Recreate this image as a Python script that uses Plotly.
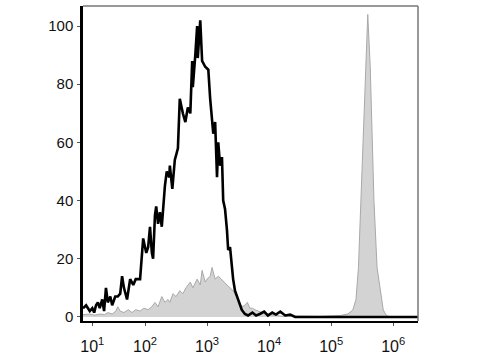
import plotly.graph_objects as go

# Fluorescence intensity in decades (log10, display scale) and % of max
black_x = [1.00, 1.05, 1.08, 1.11, 1.15, 1.18, 1.21, 1.24, 1.27, 1.31, 1.34, 1.37, 1.40, 1.44,
           1.47, 1.52, 1.56, 1.60, 1.63, 1.66, 1.71, 1.76, 1.81, 1.85, 1.92, 1.97, 2.02, 2.05,
           2.08, 2.11, 2.13, 2.16, 2.18, 2.21, 2.24, 2.27, 2.32, 2.35, 2.39, 2.40, 2.44, 2.48,
           2.53, 2.56, 2.61, 2.65, 2.69, 2.73, 2.76, 2.77, 2.81, 2.84, 2.85, 2.89, 2.92, 2.97,
           3.02, 3.05, 3.10, 3.13, 3.16, 3.18, 3.21, 3.24, 3.26, 3.29, 3.32, 3.34, 3.37, 3.40,
           3.42, 3.45, 3.50, 3.53, 3.56, 3.61, 3.66, 3.73, 3.79, 3.85, 3.92, 3.98, 4.05, 4.11,
           4.18, 4.26, 4.34, 4.42, 4.50, 6.40]
black_y = [3, 4, 3, 2, 3, 1.5, 4, 5, 3, 6, 2, 10, 5, 7,
           4, 7, 7, 8, 14, 10, 6, 13, 11, 13, 13, 27, 22, 24,
           31, 22, 20, 35, 38, 32, 36, 31, 45, 50, 48, 52, 44, 54,
           58, 75, 70, 67, 72, 70, 88, 79, 90, 100, 89, 102, 88, 86,
           85, 75, 63, 67, 48, 60, 52, 55, 40, 37, 30, 23, 24, 17,
           13, 9, 6, 4, 2.4, 1, 0.5, 1.5, 0.5, 1, 1.8, 0.5, 1.5, 0.8,
           1.8, 0.5, 0.8, 0, 0, 0]

gray_x = [1.00, 1.11, 1.19, 1.27, 1.35, 1.40, 1.47, 1.53, 1.56, 1.60, 1.66, 1.73, 1.79, 1.85,
          1.92, 1.98, 2.05, 2.11, 2.16, 2.21, 2.27, 2.32, 2.37, 2.40, 2.45, 2.50, 2.56, 2.61,
          2.66, 2.73, 2.77, 2.84, 2.89, 2.92, 2.97, 3.00, 3.05, 3.08, 3.13, 3.18, 3.23, 3.27,
          3.32, 3.37, 3.42, 3.45, 3.50, 3.53, 3.56, 3.61, 3.65, 3.69, 3.73, 3.77, 3.82, 3.89,
          3.94, 4.02, 4.10, 4.21, 4.50, 4.82, 5.15, 5.27, 5.35, 5.40, 5.44, 5.48, 5.52, 5.55,
          5.59, 5.63, 5.66, 5.69, 5.74, 5.81, 5.84, 5.89, 5.95, 6.40]
gray_y = [0.8, 1, 0.6, 1, 0.8, 1.5, 1, 2, 3.5, 2, 1.5, 2.5, 1.5, 2.5,
          2, 3, 2.5, 3.5, 5, 3.5, 7, 5, 6, 5, 8, 7, 9, 8,
          10, 12, 10, 13, 11, 16, 12, 13, 14, 17, 13, 14, 13, 12,
          11, 10, 9, 8, 6, 5, 3.5, 4, 5, 3, 3, 2.5, 2, 1.5,
          1, 0.8, 0.5, 0.2, 0.3, 0.2, 0.5, 1, 2.4, 6, 17, 40, 63, 86,
          104, 86, 63, 40, 17, 6, 2.4, 0.5, 0, 0]

x_tickvals = [1.15, 2, 3, 4, 5, 6]
x_ticktext = ["10<sup>1</sup>", "10<sup>2</sup>", "10<sup>3</sup>",
              "10<sup>4</sup>", "10<sup>5</sup>", "10<sup>6</sup>"]
y_tickvals = [0, 20, 40, 60, 80, 100]

fig = go.Figure()
fig.add_trace(go.Scatter(x=gray_x, y=gray_y, mode="lines", fill="tozeroy",
                         fillcolor="#d3d3d3", line=dict(color="#a9a9a9", width=1),
                         showlegend=False, hoverinfo="skip"))
fig.add_trace(go.Scatter(x=black_x, y=black_y, mode="lines",
                         line=dict(color="#000000", width=2.6),
                         showlegend=False))

font = dict(family="Liberation Sans, Arial, sans-serif", size=15, color="#111111")
fig.update_layout(
    width=480, height=360,
    margin=dict(l=83, r=62, t=6, b=39),
    paper_bgcolor="white", plot_bgcolor="white",
    font=font,
    xaxis=dict(range=[1.0, 6.40], tickvals=x_tickvals, ticktext=x_ticktext,
               showgrid=False, zeroline=False, showline=True, linecolor="black",
               linewidth=2, ticks="outside", ticklen=3, tickcolor="#555",
               tickfont=dict(size=16), ticklabelstandoff=7),
    yaxis=dict(range=[-1.4, 106.9], tickvals=y_tickvals, showgrid=False,
               zeroline=False, showline=True, linecolor="black", linewidth=2.5,
               ticks="outside", ticklen=3, tickcolor="#555", tickfont=dict(size=15),
               ticklabelstandoff=1),
    shapes=[
        dict(type="line", xref="paper", yref="paper", x0=0, x1=1, y0=1, y1=1,
             line=dict(color="#777777", width=1.5)),
        dict(type="line", xref="paper", yref="paper", x0=1, x1=1, y0=0, y1=1,
             line=dict(color="#777777", width=1.5)),
    ],
)
fig.write_html("out.html")
